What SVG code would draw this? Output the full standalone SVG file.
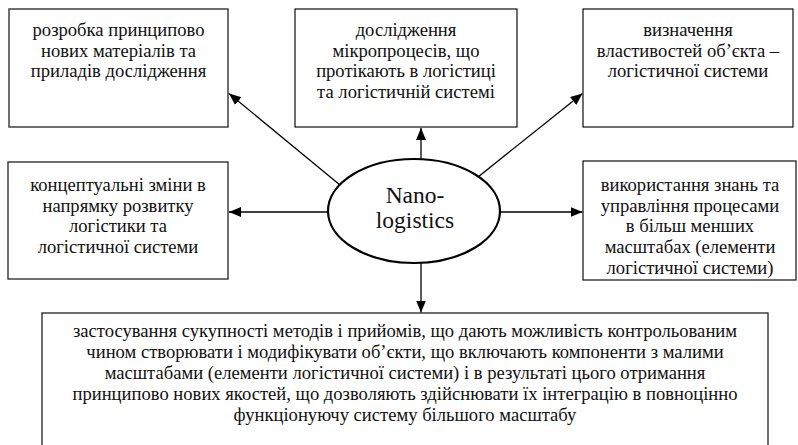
<svg xmlns="http://www.w3.org/2000/svg" width="798" height="445" viewBox="0 0 798 445">
<defs>
<style>
.box{fill:#fff;stroke:#222;stroke-width:1.3}
text{font-family:'Liberation Serif',Tinos,'Times New Roman','DejaVu Serif',serif;font-size:18.6px;fill:#111;text-anchor:middle}
.big{font-size:23.5px}
.c{stroke:#000;stroke-width:1.3;fill:none;marker-end:url(#ah)}
</style>
<marker id="ah" markerUnits="userSpaceOnUse" markerWidth="14" markerHeight="12" refX="12" refY="5" orient="auto">
<path d="M0,0 L12,5 L0,10 Z" fill="#000"/>
</marker>
</defs>
<rect width="798" height="445" fill="#fff"/>
<g id="connectors">
<line class="c" x1="360" y1="201.4" x2="229" y2="93.5"/>
<line class="c" x1="460" y1="191.4" x2="582.5" y2="93.5"/>
<line class="c" x1="421" y1="180" x2="421" y2="128"/>
<line class="c" x1="414" y1="212" x2="229" y2="212"/>
<line class="c" x1="414" y1="212" x2="582.5" y2="212"/>
<line class="c" x1="421" y1="240" x2="421" y2="312.5"/>
</g>
<g id="n1">
<rect class="box" x="9" y="9" width="219" height="118"/>
<text x="118.5" y="36">розробка принципово</text>
<text x="118.5" y="56.7">нових матеріалів та</text>
<text x="118.5" y="77.4">приладів дослідження</text>
</g>
<g id="n2">
<rect class="box" x="295" y="9" width="222" height="118"/>
<text x="406" y="36">дослідження</text>
<text x="406" y="56.7">мікропроцесів, що</text>
<text x="406" y="77.4">протікають в логістиці</text>
<text x="406" y="98">та логістичній системі</text>
</g>
<g id="n3">
<rect class="box" x="583" y="9" width="210" height="118"/>
<text x="688" y="36">визначення</text>
<text x="688" y="56.7">властивостей об’єкта –</text>
<text x="688" y="77.4">логістичної системи</text>
</g>
<g id="n4">
<rect class="box" x="8" y="162" width="220" height="117"/>
<text x="118" y="191">концептуальні зміни в</text>
<text x="118" y="211.7">напрямку розвитку</text>
<text x="118" y="232.4">логістики та</text>
<text x="118" y="253">логістичної системи</text>
</g>
<g id="n5">
<rect class="box" x="583" y="161" width="213" height="119"/>
<text x="690" y="191">використання знань та</text>
<text x="690" y="211.7">управління процесами</text>
<text x="690" y="232.4">в більш менших</text>
<text x="690" y="253">масштабах (елементи</text>
<text x="690" y="273.7">логістичної системи)</text>
</g>
<g id="center">
<ellipse cx="414" cy="211" rx="86" ry="52" fill="#fff" stroke="#000" stroke-width="2.2"/>
<text class="big" x="415" y="203">Nano-</text>
<text class="big" x="415" y="228">logistics</text>
</g>
<g id="n6">
<rect class="box" x="42" y="313" width="726" height="140"/>
<text x="405" y="337">застосування сукупності методів і прийомів, що дають можливість контрольованим</text>
<text x="405" y="358">чином створювати і модифікувати об’єкти, що включають компоненти з малими</text>
<text x="405" y="379">масштабами (елементи логістичної системи) і в результаті цього отримання</text>
<text x="405" y="400">принципово нових якостей, що дозволяють здійснювати їх інтеграцію в повноцінно</text>
<text x="405" y="421">функціонуючу систему більшого масштабу</text>
</g>
</svg>
